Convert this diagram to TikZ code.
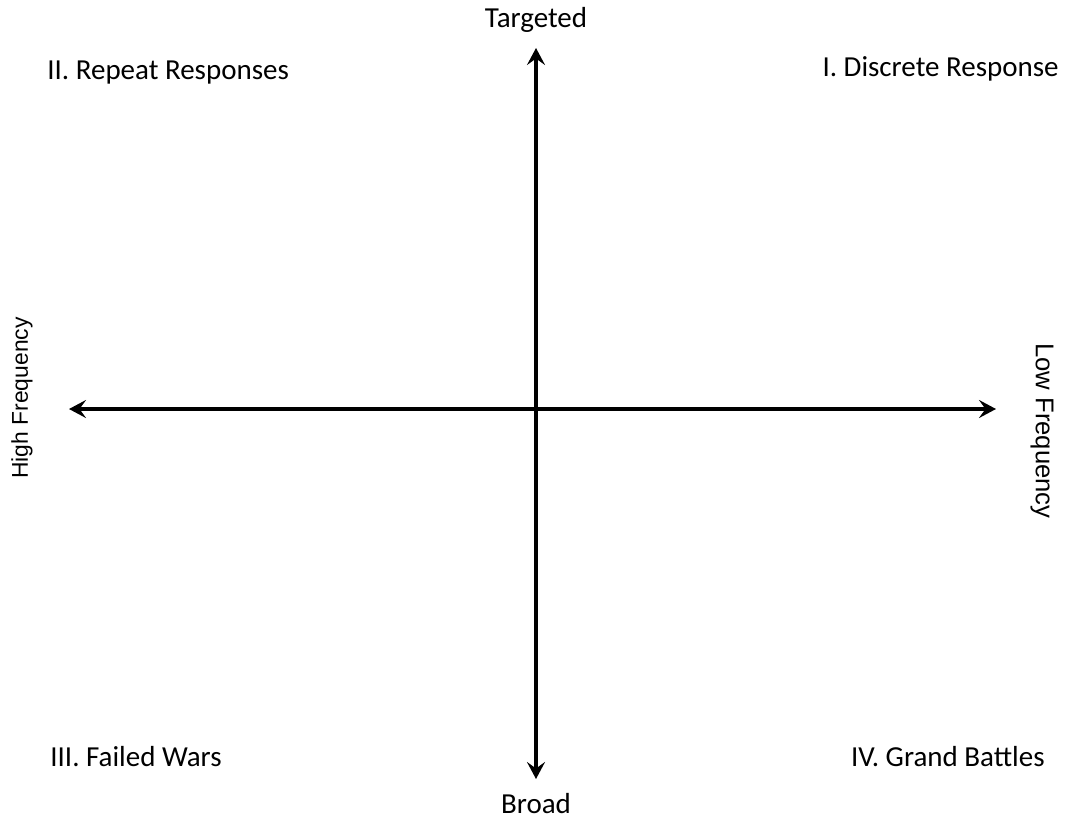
\documentclass[tikz,border=0pt]{standalone}
\usepackage{fontspec}
\setmainfont{Carlito}
\newfontfamily\sidefont{Liberation Sans}
\usetikzlibrary{arrows.meta}

\tikzset{
  axis/.style={line width=1.9pt, {Stealth[length=3.4mm,width=3.6mm,inset=1.3mm]}-{Stealth[length=3.4mm,width=3.6mm,inset=1.3mm]}},
  quadrant/.style={font=\fontsize{16.5}{19}\selectfont, inner sep=0pt},
  sidelabel/.style={font=\sidefont\fontsize{13}{16}\selectfont, inner sep=0pt}
}

\begin{document}
\begin{tikzpicture}[x=0.02cm, y=-0.02cm]
\useasboundingbox (0,0) rectangle (1065,822);
\coordinate (top) at (536,48);
\coordinate (bottom) at (536,779);
\coordinate (left) at (69,409);
\coordinate (right) at (996,409);
\node[quadrant] (targeted) at (536,20) {Targeted};
\node[quadrant] (broad) at (536,804) {Broad};
\node[quadrant, anchor=west] (repeat) at (47,73) {II. Repeat Responses};
\node[quadrant, anchor=east] (discrete) at (1059,69) {I. Discrete Response};
\node[quadrant, anchor=west] (failed) at (50,757) {III. Failed Wars};
\node[quadrant, anchor=east] (grand) at (1045,757) {IV. Grand Battles};
\node[sidelabel, rotate=90] (high) at (22,398) {High Frequency};
\node[sidelabel, rotate=-90, font=\sidefont\fontsize{14.6}{17}\selectfont] (low) at (1042,431) {Low Frequency};
\draw[axis] (bottom) -- (top);
\draw[axis] (left) -- (right);
\end{tikzpicture}
\end{document}
